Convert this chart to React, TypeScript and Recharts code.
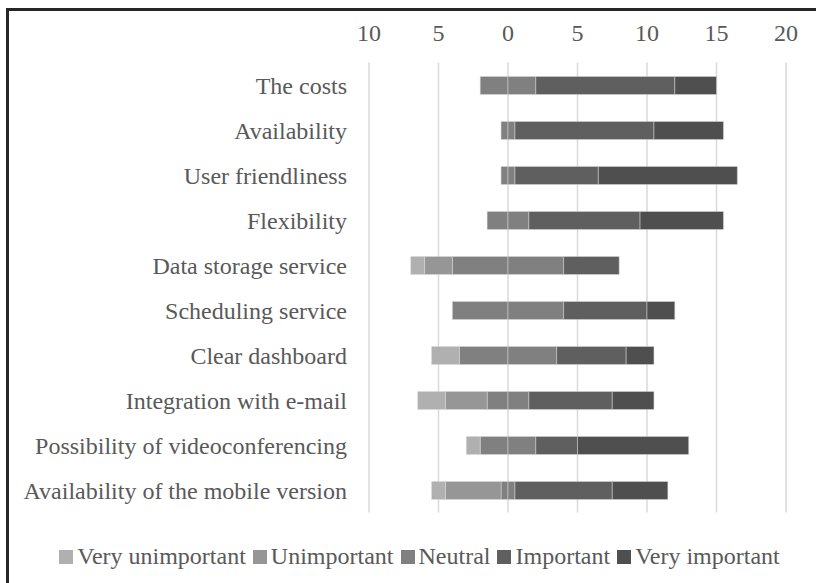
import { Bar, BarChart, CartesianGrid, Legend, XAxis, YAxis } from 'recharts';

const categories = [
  'The costs',
  'Availability',
  'User friendliness',
  'Flexibility',
  'Data storage service',
  'Scheduling service',
  'Clear dashboard',
  'Integration with e-mail',
  'Possibility of videoconferencing',
  'Availability of the mobile version',
];

// answer counts per category
const veryUnimportant = [0, 0, 0, 0, 1, 0, 2, 2, 1, 1];
const unimportant = [0, 0, 0, 0, 2, 0, 0, 3, 0, 4];
const neutral = [4, 1, 1, 3, 8, 8, 7, 3, 4, 1];
const important = [10, 10, 6, 8, 4, 6, 5, 6, 3, 7];
const veryImportant = [3, 5, 10, 6, 0, 2, 2, 3, 8, 4];

const xTicks = [-10, -5, 0, 5, 10, 15, 20];

const legendNames = ['Very unimportant', 'Unimportant', 'Neutral', 'Important', 'Very important'];
const colors = ['#b0b0b0', '#969696', '#808080', '#5f5f5f', '#4f4f4f'];

// negatives go left of zero, neutral is split evenly across it
const data = categories.map((name, i) => ({
  name,
  neutralLeft: -neutral[i] / 2,
  unimportant: -unimportant[i],
  veryUnimportant: -veryUnimportant[i],
  neutralRight: neutral[i] / 2,
  important: important[i],
  veryImportant: veryImportant[i],
}));

const FONT = '"Liberation Serif", "Times New Roman", serif';
const TEXT = '#595959';

function LegendContent() {
  return (
    <div
      style={{
        textAlign: 'center',
        paddingLeft: 47,
        fontFamily: FONT,
        fontSize: 24,
        lineHeight: '28px',
        color: TEXT,
        whiteSpace: 'nowrap',
      }}
    >
      {legendNames.map((n, i) => (
        <span key={n} style={{ display: 'inline-block', marginRight: i < legendNames.length - 1 ? 7 : 0 }}>
          <span
            style={{
              display: 'inline-block',
              width: 14,
              height: 14,
              background: colors[i],
              marginRight: 4,
            }}
          />
          {n}
        </span>
      ))}
    </div>
  );
}

export default function App() {
  return (
    <div
      style={{
        position: 'fixed',
        left: 6,
        top: 8,
        width: 810,
        height: 575,
        borderTop: '3px solid #262626',
        borderLeft: '3px solid #262626',
        boxSizing: 'border-box',
        background: '#fff',
      }}
    >
      <div style={{ position: 'absolute', left: -3, top: -3 }}>
        <BarChart
          width={810}
          height={575}
          data={data}
          layout="vertical"
          stackOffset="sign"
          barSize={18}
          margin={{ top: 0, right: 30, bottom: 13, left: 0 }}
        >
          <CartesianGrid horizontal={false} stroke="#d9d9d9" strokeWidth={1.5} />
          <XAxis
            type="number"
            orientation="top"
            domain={[-10, 20]}
            ticks={xTicks}
            tickFormatter={(v: number) => `${Math.abs(v)}`}
            axisLine={false}
            tickLine={false}
            tickSize={0}
            tickMargin={22}
            height={54.5}
            tick={{ fill: TEXT, fontSize: 24, fontFamily: FONT }}
          />
          <YAxis
            type="category"
            dataKey="name"
            width={363}
            axisLine={false}
            tickLine={false}
            tickSize={0}
            tickMargin={22}
            tick={{ fill: TEXT, fontSize: 24, fontFamily: FONT }}
          />
          <Legend verticalAlign="bottom" wrapperStyle={{ paddingTop: 29.5 }} content={() => <LegendContent />} />
          <Bar dataKey="neutralLeft" stackId="a" fill={colors[2]} stroke="#d9d9d9" strokeWidth={0.5} isAnimationActive={false} />
          <Bar dataKey="unimportant" stackId="a" fill={colors[1]} stroke="#d9d9d9" strokeWidth={0.5} isAnimationActive={false} />
          <Bar dataKey="veryUnimportant" stackId="a" fill={colors[0]} stroke="#d9d9d9" strokeWidth={0.5} isAnimationActive={false} />
          <Bar dataKey="neutralRight" stackId="a" fill={colors[2]} stroke="#d9d9d9" strokeWidth={0.5} isAnimationActive={false} />
          <Bar dataKey="important" stackId="a" fill={colors[3]} stroke="#d9d9d9" strokeWidth={0.5} isAnimationActive={false} />
          <Bar dataKey="veryImportant" stackId="a" fill={colors[4]} stroke="#d9d9d9" strokeWidth={0.5} isAnimationActive={false} />
        </BarChart>
      </div>
    </div>
  );
}
